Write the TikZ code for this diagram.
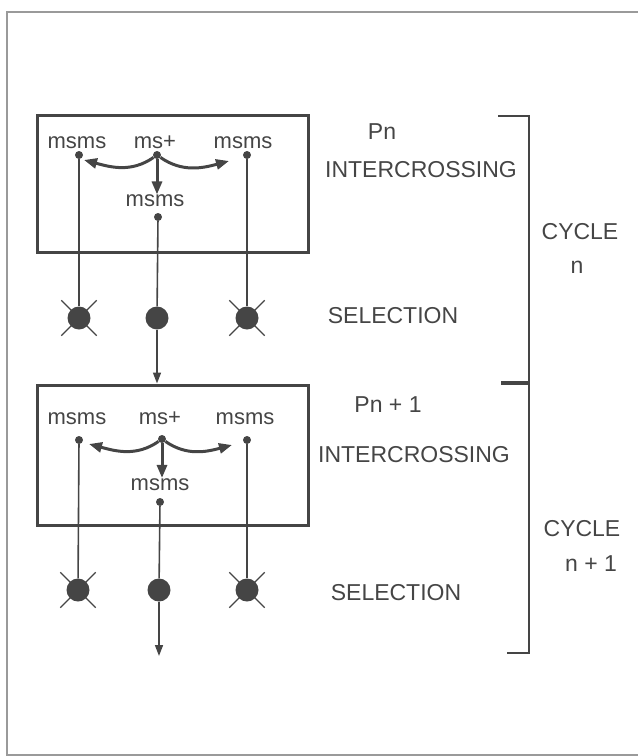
\documentclass[tikz,border=0pt]{standalone}
\usepackage{fontspec}
\setmainfont{Liberation Sans}
\usetikzlibrary{arrows.meta, positioning, calc, shapes.misc}
\definecolor{inkgray}{HTML}{454545}
\definecolor{framegray}{HTML}{9a9a9a}

\begin{document}
\begin{tikzpicture}[
    x=1pt, y=-1pt,
    gene/.style={text=inkgray, font=\fontsize{22}{24}\selectfont, inner sep=0pt, anchor=base},
    phase/.style={text=inkgray, font=\fontsize{23}{25}\selectfont, inner sep=0pt, align=center},
    pool/.style={rectangle, draw=inkgray, line width=3pt, minimum width=271pt, inner sep=0pt},
    dot/.style={circle, fill=inkgray, inner sep=0pt, minimum size=8pt},
    plant/.style={circle, fill=inkgray, inner sep=0pt, minimum size=23pt},
    reject/.style={cross out, draw=inkgray, line width=1.4pt, inner sep=0pt, minimum size=34pt},
    stem/.style={draw=inkgray, line width=1.6pt},
    arrow/.style={-{Triangle[length=11pt, width=8pt]}, draw=inkgray, line width=1.6pt},
    cross/.style={-{Triangle[length=13pt, width=10pt]}, draw=inkgray, line width=3pt},
    bracket/.style={draw=inkgray, line width=2.2pt}
]
\useasboundingbox (0,0) rectangle (638,756);
\draw[framegray, line width=1.2pt] (640,12) -- (7,12) -- (7,755) -- (640,755);

% generation n
\node[pool, minimum height=137pt] (box1) at (172.5,183.5) {};
\node[gene] (g1l) at (77,148.5) {msms};
\node[gene] (g1c) at (155,148.5) {ms+};
\node[gene] (g1r) at (243,148.5) {msms};
\node[dot] (d1l) at (79,155) {};
\node[dot] (d1c) at (157,155) {};
\node[dot] (d1r) at (247,155) {};
\node[gene] (g1m) at (155,206.5) {msms};
\node[dot] (d1m) at (158,217) {};
\coordinate (e1l) at (84,160);
\coordinate (e1r) at (229,161);
\draw[cross] (d1c) to[out=215, in=-15] (e1l);
\draw[cross] (d1c) to[out=-35, in=195] (e1r);
\draw[cross] (d1c) -- (d1c |- g1m.north);

\node[plant] (p1l) at (79,318) {};
\node[plant] (p1c) at (157,318) {};
\node[plant] (p1r) at (247,318) {};
\node[reject] (x1l) at (p1l) {};
\node[reject] (x1r) at (p1r) {};
\draw[stem] (d1l) -- (p1l);
\draw[stem] (d1m) -- (p1c);
\draw[stem] (d1r) -- (p1r);

% generation n+1
\node[pool, minimum height=140pt] (box2) at (172.5,455) {};
\draw[arrow] (p1c) -- (p1c |- box2.north);
\node[gene] (g2l) at (77,424.5) {msms};
\node[gene] (g2c) at (160,424.5) {ms+};
\node[gene] (g2r) at (245,424.5) {msms};
\node[dot] (d2l) at (79,440) {};
\node[dot] (d2c) at (162,439) {};
\node[dot] (d2r) at (247,440) {};
\node[gene] (g2m) at (160,490) {msms};
\node[dot] (d2m) at (160,502) {};
\coordinate (e2l) at (89,444);
\coordinate (e2r) at (232,445);
\draw[cross] (d2c) to[out=215, in=-15] (e2l);
\draw[cross] (d2c) to[out=-35, in=195] (e2r);
\draw[cross] (d2c) -- (d2c |- g2m.north);

\node[plant] (p2l) at (78,590) {};
\node[plant] (p2c) at (159,590) {};
\node[plant] (p2r) at (247,590) {};
\node[reject] (x2l) at (p2l) {};
\node[reject] (x2r) at (p2r) {};
\draw[stem] (d2l) -- (p2l);
\draw[stem] (d2m) -- (p2c);
\draw[stem] (d2r) -- (p2r);
\coordinate (next) at (159,656);
\draw[arrow] (p2c) -- (next);

% phases
\node[phase] (pn) at (382,132) {Pn};
\node[phase] (int1) at (421,170) {INTERCROSSING};
\node[phase] (sel1) at (393,316) {SELECTION};
\node[phase] (pn1) at (388,405) {Pn + 1};
\node[phase] (int2) at (414,455) {INTERCROSSING};
\node[phase] (sel2) at (396,593) {SELECTION};

% cycles
\draw[bracket] (498,116) -- (529,116) -- (529,383);
\draw[draw=inkgray, line width=4pt] (501,383) -- (530,383);
\draw[bracket] (529,383) -- (529,653) -- (507,653);
\node[phase] (cyc1) at (580,232) {CYCLE};
\node[phase] (cn1) at (577,267) {n};
\node[phase] (cyc2) at (582,529) {CYCLE};
\node[phase] (cn2) at (591,564) {n + 1};

\end{tikzpicture}
\end{document}
